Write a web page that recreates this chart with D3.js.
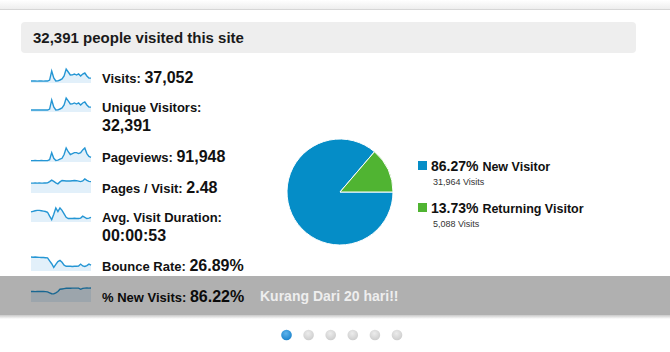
<!DOCTYPE html>
<html>
<head>
<meta charset="utf-8">
<script src="https://cdn.jsdelivr.net/npm/d3@7"></script>
<style>
  body { margin: 0; background: #fff; }
  svg { display: block; font-family: "Liberation Sans", Arial, sans-serif; }
</style>
</head>
<body>
<svg id="chart"></svg>
<script>
// ---- data ----
const headline = "32,391 people visited this site";

const metricLabels = ["Visits:", "Unique Visitors:", "Pageviews:", "Pages / Visit:", "Avg. Visit Duration:", "Bounce Rate:", "% New Visits:"];
const metricValues = ["37,052", "32,391", "91,948", "2.48", "00:00:53", "26.89%", "86.22%"];

// daily values behind each sparkline (30 days)
const visitsDaily = [260,255,262,250,258,265,250,262,255,380,1560,650,270,280,390,520,910,1820,1430,1040,1050,1170,1030,1180,920,1170,1300,910,650,640];
const uniqueDaily = [225,222,228,218,224,230,218,228,222,330,1360,565,235,244,340,452,790,1580,1245,905,915,1020,895,1025,800,1020,1130,790,565,555];
const pageviewsDaily = [380,375,385,370,380,390,375,380,378,620,2500,1000,380,500,750,1000,2000,3750,2750,2000,2250,2500,2500,2250,2500,3250,3750,2250,1500,1250];
const pagesDaily = [2.05,2.04,2.06,2.05,2.07,2.05,2.06,2.08,2.1,2.35,2.67,2.4,2.1,1.89,2.3,2.6,2.55,2.5,2.52,2.48,2.55,2.6,2.55,2.45,2.36,2.5,2.9,2.6,2.4,2.36];
const durationDaily = [52,55,58,60,60,58,56,54,50,30,12,40,72,54,72,60,42,24,18,18,18,19,18,18,20,30,24,18,20,24];
const bounceDaily = [38.5,38,38.5,38,37.5,37,37,36.5,36,28,20,10,18,26,29,24,16,13,13,13,12.5,13,13,13.5,19,14,12.5,15,19,16];
const newVisitsDaily = [66,66,65.5,66,66.5,66,66,65.5,64,58,52,51,58,66,80,82,84,86,86.5,86,87,87,87.5,87,80,86,87.5,88,87,88];

const sparkSeries = [visitsDaily, uniqueDaily, pageviewsDaily, pagesDaily, durationDaily, bounceDaily, newVisitsDaily];

const visitorTypes = ["New Visitor", "Returning Visitor"];
const visitorShares = [86.27, 13.73];
const visitorVisits = ["31,964", "5,088"];

const bannerText = "Kurang Dari 20 hari!!";
const pageCount = 6;

// ---- layout ----
const W = 670, H = 352;
const svg = d3.select("#chart").attr("width", W).attr("height", H);
const defs = svg.append("defs");

// top edge of the card
const topGrad = defs.append("linearGradient").attr("id", "top-grad")
  .attr("x1", 0).attr("y1", 0).attr("x2", 0).attr("y2", 1);
topGrad.append("stop").attr("offset", "0%").attr("stop-color", "#ffffff");
topGrad.append("stop").attr("offset", "100%").attr("stop-color", "#eeeeee");
svg.append("rect").attr("x", 0).attr("y", 0).attr("width", W).attr("height", 9).attr("fill", "url(#top-grad)");
svg.append("line").attr("x1", 0).attr("x2", W).attr("y1", 9.5).attr("y2", 9.5).attr("stroke", "#d6d6d6");

// headline box
svg.append("rect")
  .attr("x", 21).attr("y", 22).attr("width", 615).attr("height", 31).attr("rx", 4)
  .attr("fill", "#eeeeee");
svg.append("text")
  .attr("x", 33).attr("y", 43)
  .attr("font-size", 15).attr("font-weight", "bold").attr("fill", "#1a1a1a")
  .text(headline);

// metric rows: baseline of first line, optional second line for value
const rowBase = [83, 112, 162, 193, 222, 271, 302];
const wrapValue = [false, true, false, false, true, false, false];
const sparkX = d3.scaleLinear().domain([0, 29]).range([31, 91]);

metricLabels.forEach((label, i) => {
  const base = rowBase[i];
  const vals = sparkSeries[i];
  const y = d3.scaleLinear().domain([0, d3.max(vals)]).range([base, base - 14]);

  const area = d3.area().x((d, j) => sparkX(j)).y0(base).y1(d => y(d));
  const line = d3.line().x((d, j) => sparkX(j)).y(d => y(d));

  svg.append("path").datum(vals).attr("d", area).attr("fill", "#e2f0fa");
  svg.append("path").datum(vals).attr("d", line)
    .attr("fill", "none").attr("stroke", "#2596d4").attr("stroke-width", 1.4);

  const t = svg.append("text")
    .attr("x", 102).attr("y", base)
    .attr("font-weight", "bold").attr("fill", "#111");
  t.append("tspan").attr("font-size", 13).text(label + " ");
  if (wrapValue[i]) {
    svg.append("text")
      .attr("x", 102).attr("y", base + 19)
      .attr("font-size", 16).attr("font-weight", "bold").attr("fill", "#111")
      .text(metricValues[i]);
  } else {
    t.append("tspan").attr("font-size", 16).text(metricValues[i]);
  }
});

// pie of visitor types
const pieColor = d3.scaleOrdinal().domain(visitorTypes).range(["#058dc7", "#50b432"]);
const pie = d3.pie().sort(null)
  .startAngle(Math.PI / 2).endAngle(Math.PI / 2 + 2 * Math.PI)
  .value((d, i) => visitorShares[i]);
const arc = d3.arc().innerRadius(0).outerRadius(53);

svg.append("g")
  .attr("transform", "translate(340,192)")
  .selectAll("path")
  .data(pie(visitorTypes))
  .enter()
  .append("path")
  .attr("d", arc)
  .attr("fill", d => pieColor(d.data))
  .attr("stroke", "#ffffff")
  .attr("stroke-width", 1);

// legend
const legendY = d3.scalePoint().domain(visitorTypes).range([171, 213]);
visitorTypes.forEach((name, i) => {
  const ly = legendY(name);
  svg.append("rect")
    .attr("x", 418).attr("y", ly - 10).attr("width", 9).attr("height", 9)
    .attr("fill", pieColor(name));
  const t = svg.append("text").attr("x", 431).attr("y", ly)
    .attr("font-weight", "bold").attr("fill", "#111");
  t.append("tspan").attr("font-size", 14).text(d3.format(".2f")(visitorShares[i]) + "% ");
  t.append("tspan").attr("font-size", 12.5).text(name);
  svg.append("text")
    .attr("x", 433).attr("y", ly + 13.5)
    .attr("font-size", 9).attr("fill", "#333")
    .text(visitorVisits[i] + " Visits");
});

// caption band over the last row
const shadowGrad = defs.append("linearGradient").attr("id", "band-shadow")
  .attr("x1", 0).attr("y1", 0).attr("x2", 0).attr("y2", 1);
shadowGrad.append("stop").attr("offset", "0%").attr("stop-color", "#c8c8c8");
shadowGrad.append("stop").attr("offset", "100%").attr("stop-color", "#ffffff");
svg.append("rect").attr("x", 0).attr("y", 315).attr("width", W).attr("height", 4).attr("fill", "url(#band-shadow)");
svg.append("rect")
  .attr("x", 0).attr("y", 276).attr("width", W).attr("height", 39)
  .attr("fill", "#000").attr("fill-opacity", 0.31);
svg.append("text")
  .attr("x", 260).attr("y", 301)
  .attr("font-size", 14).attr("font-weight", "bold").attr("fill", "#eeeeee")
  .text(bannerText);

// pager dots
const blueDot = defs.append("radialGradient").attr("id", "dot-on").attr("cx", "45%").attr("cy", "35%").attr("r", "65%");
blueDot.append("stop").attr("offset", "0%").attr("stop-color", "#5db3ec");
blueDot.append("stop").attr("offset", "100%").attr("stop-color", "#1b83cc");
const grayDot = defs.append("radialGradient").attr("id", "dot-off").attr("cx", "45%").attr("cy", "35%").attr("r", "65%");
grayDot.append("stop").attr("offset", "0%").attr("stop-color", "#ececec");
grayDot.append("stop").attr("offset", "100%").attr("stop-color", "#cdcdcd");

const dotX = d3.scaleLinear().domain([0, pageCount - 1]).range([286.5, 397]);
svg.selectAll(".dot")
  .data(d3.range(pageCount))
  .enter()
  .append("circle")
  .attr("class", "dot")
  .attr("cx", d => dotX(d))
  .attr("cy", 335)
  .attr("r", 5.3)
  .attr("fill", d => d === 0 ? "url(#dot-on)" : "url(#dot-off)");
</script>
</body>
</html>
